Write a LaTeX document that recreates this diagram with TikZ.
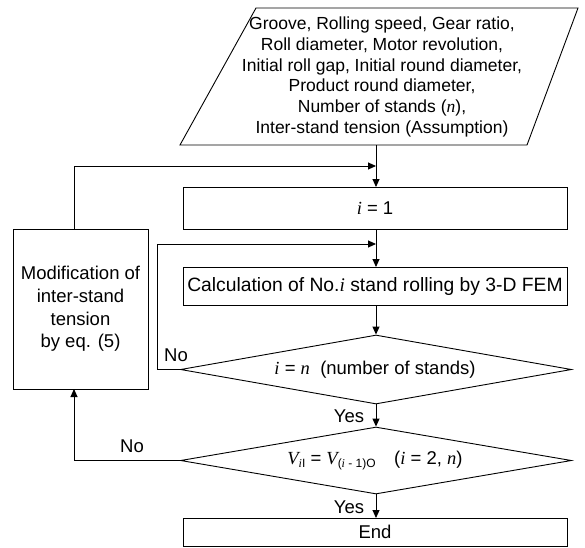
\documentclass[tikz,border=0pt]{standalone}
\usepackage{fontspec}
\setmainfont{Liberation Sans}
\newfontfamily\tnr{Liberation Serif}
\usetikzlibrary{arrows.meta,shapes.geometric}
\newcommand{\mi}[1]{{\tnr\itshape #1}}
\newcommand{\sbx}[1]{\raisebox{-0.3ex}{\fontsize{12}{12}\selectfont #1}}
\begin{document}
\begin{tikzpicture}[x=1pt,y=-1pt, line width=0.9pt,
  conn/.style={-{Triangle[length=8pt,width=7pt]}},
  proc/.style={draw, rectangle, minimum width=384pt, inner sep=0pt},
  dec/.style={draw, diamond, minimum width=391pt, inner sep=0pt},
  txt/.style={font=\fontsize{18.5}{20.7}\selectfont, inner sep=0pt, align=center}]
\useasboundingbox (0,0) rectangle (585,547);
% input parallelogram
\draw (180,145) -- (527,145) -- (578,8) -- (256,8) -- cycle;
\node[txt, font=\fontsize{17.5}{20.7}\selectfont] (in) at (382,77) {Groove, Rolling speed, Gear ratio,\\ Roll diameter, Motor revolution,\\ Initial roll gap, Initial round diameter,\\ Product round diameter,\\ Number of stands (\mi{n}),\\ Inter-stand tension (Assumption)};
\coordinate (inb) at (376,145);
% boxes
\node[proc, minimum height=42pt] (init) at (375,208) {};
\node[txt] at (init) {\mi{i} = 1};
\node[proc, minimum height=38pt] (calc) at (375,286) {};
\node[txt, font=\fontsize{19.3}{20.7}\selectfont] at (calc) {Calculation of No.\mi{i} stand rolling by 3-D FEM};
\node[dec, minimum height=69pt] (d1) at (376,369.5) {};
\node[txt] at (375,369.5) {\mi{i} = \mi{n}\ \ (number of stands)};
\node[dec, minimum height=67pt] (d2) at (376,460.5) {};
\node[txt] at (375,460.5) {\mi{V}\sbx{\mi{i}I} = \mi{V}\sbx{(\mi{i} - 1)O}\quad(\mi{i} = 2, \mi{n})};
\node[proc, minimum height=28pt] (end) at (375,532) {};
\node[txt] at (end) {End};
\node[draw, rectangle, minimum width=135pt, minimum height=160pt, inner sep=0pt] (mod) at (80.5,309) {};
\node[txt, font=\fontsize{18.5}{22.7}\selectfont] at (mod) {Modification of\\inter-stand\\tension\\by eq. (5)};
% coordinates
\coordinate (modt) at (74,229);
\coordinate (modb) at (74,389);
\coordinate (top1) at (376,166);
\coordinate (top2) at (376,244);
% connectors
\draw[conn] (inb) -- (376,187);
\draw[conn] (modt) -- (74,166) -- (top1);
\draw[conn] (376,229) -- (376,267);
\draw[conn] (d1.west) -- (157,369.5) -- (157,244) -- (top2);
\draw[conn] (376,305) -- (d1.north);
\draw[conn] (d1.south) -- (d2.north);
\draw[conn] (d2.west) -- (74,460.5) -- (modb);
\draw[conn] (d2.south) -- (376,518);
% labels
\node[txt] (no1) at (176,355) {No};
\node[txt] (no2) at (132,446) {No};
\node[txt] (yes1) at (349,416) {Yes};
\node[txt] (yes2) at (349,507) {Yes};
\end{tikzpicture}
\end{document}
